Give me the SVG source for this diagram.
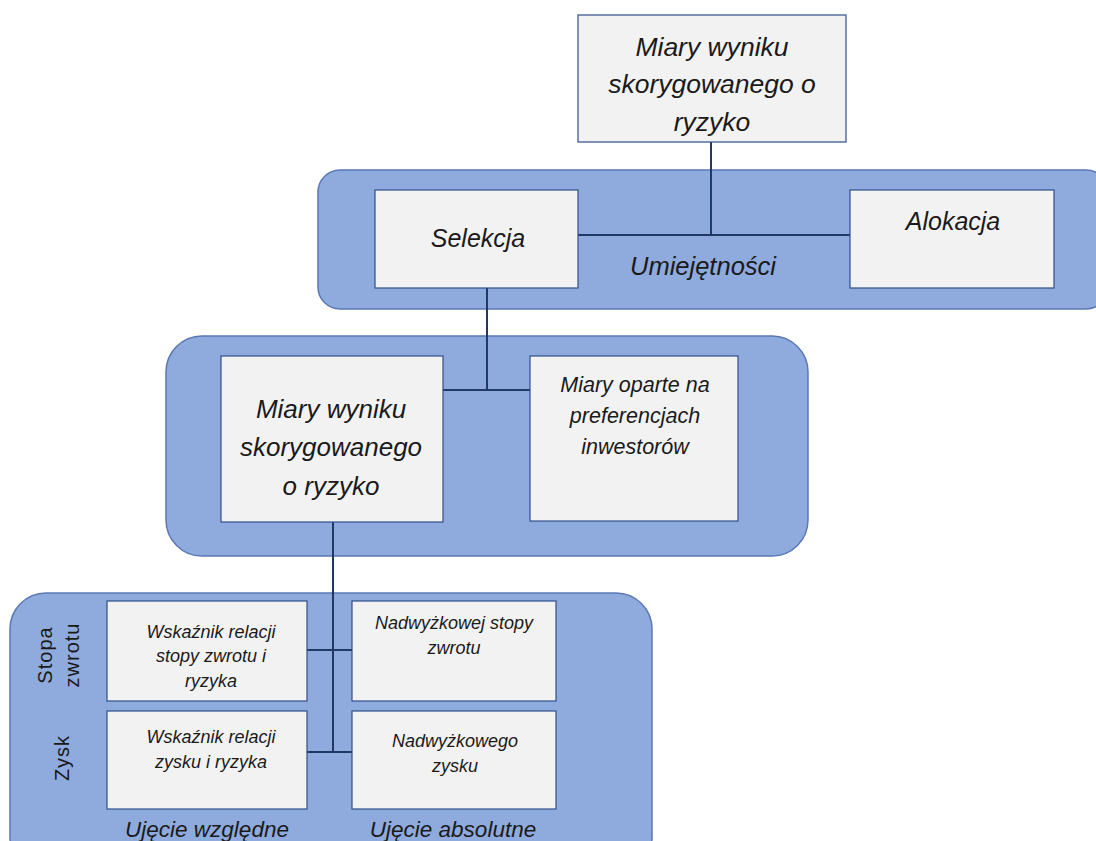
<svg xmlns="http://www.w3.org/2000/svg" width="1096" height="841" viewBox="0 0 1096 841">
<style>
.band{fill:#8faadc;stroke:#5a78b4;stroke-width:1.5}
.box{fill:#f2f2f2;stroke:#2f4f8a;stroke-width:1.2}
.t{font-family:"Liberation Sans",Arial,sans-serif;font-style:italic;fill:#1a1a1a;text-anchor:middle}
.r{font-family:"Liberation Sans",Arial,sans-serif;fill:#1a1a1a;text-anchor:middle;letter-spacing:1px}
.c{stroke:#1f3864;stroke-width:2;fill:none}
</style>
<rect width="1096" height="841" fill="#ffffff"/>
<g id="bands">
<rect class="band" x="318" y="170" width="790" height="139" rx="22"/>
<rect class="band" x="166" y="336" width="642" height="220" rx="36"/>
<rect class="band" x="10" y="593" width="642" height="280" rx="36"/>
</g>
<g id="connectors">
<path class="c" d="M711 142V235M578 235H850"/>
<path class="c" d="M487 288V390M443 390H530"/>
<path class="c" d="M333 522V752M307 650H352M307 752H352"/>
</g>
<g id="top">
<rect class="box" x="578" y="15" width="268" height="127"/>
<text class="t" font-size="26.5" x="712" y="56">Miary wyniku</text>
<text class="t" font-size="26.5" x="712" y="93">skorygowanego o</text>
<text class="t" font-size="26.5" x="712" y="131">ryzyko</text>
</g>
<g id="selekcja">
<rect class="box" x="375" y="190" width="203" height="98"/>
<text class="t" font-size="25" x="478" y="247">Selekcja</text>
</g>
<g id="alokacja">
<rect class="box" x="850" y="190" width="204" height="98"/>
<text class="t" font-size="25" x="953" y="230">Alokacja</text>
</g>
<g id="umiejetnosci">
<text class="t" font-size="25.5" x="703" y="275">Umiejętności</text>
</g>
<g id="miary2">
<rect class="box" x="221" y="356" width="222" height="166"/>
<text class="t" font-size="26" x="331" y="418">Miary wyniku</text>
<text class="t" font-size="26" x="331" y="456">skorygowanego</text>
<text class="t" font-size="26" x="331" y="495">o ryzyko</text>
</g>
<g id="preferencje">
<rect class="box" x="530" y="356" width="208" height="165"/>
<text class="t" font-size="21.5" x="635" y="392">Miary oparte na</text>
<text class="t" font-size="21.5" x="635" y="423">preferencjach</text>
<text class="t" font-size="21.5" x="635" y="454">inwestorów</text>
</g>
<g id="wsk1">
<rect class="box" x="107" y="601" width="200" height="100"/>
<text class="t" font-size="18" x="211" y="638">Wskaźnik relacji</text>
<text class="t" font-size="18" x="211" y="662">stopy zwrotu i</text>
<text class="t" font-size="18" x="211" y="687">ryzyka</text>
</g>
<g id="nad1">
<rect class="box" x="352" y="601" width="204" height="100"/>
<text class="t" font-size="18" x="454" y="629">Nadwyżkowej stopy</text>
<text class="t" font-size="18" x="454" y="654">zwrotu</text>
</g>
<g id="wsk2">
<rect class="box" x="107" y="711" width="200" height="98"/>
<text class="t" font-size="18" x="211" y="743">Wskaźnik relacji</text>
<text class="t" font-size="18" x="211" y="768">zysku i ryzyka</text>
</g>
<g id="nad2">
<rect class="box" x="352" y="711" width="204" height="98"/>
<text class="t" font-size="18" x="455" y="747">Nadwyżkowego</text>
<text class="t" font-size="18" x="455" y="772">zysku</text>
</g>
<g id="rowlabels">
<text class="r" font-size="20" transform="translate(52 655) rotate(-90)">Stopa</text>
<text class="r" font-size="20" transform="translate(79 655) rotate(-90)">zwrotu</text>
<text class="r" font-size="20" transform="translate(69 758) rotate(-90)">Zysk</text>
</g>
<g id="collabels">
<text class="t" font-size="22.5" x="207" y="837">Ujęcie względne</text>
<text class="t" font-size="22.5" x="453" y="837">Ujęcie absolutne</text>
</g>
</svg>
